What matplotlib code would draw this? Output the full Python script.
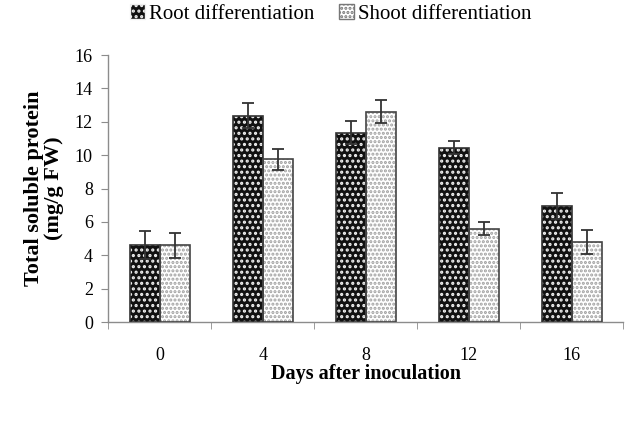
import matplotlib
matplotlib.use("Agg")
import matplotlib.pyplot as plt
import numpy as np
from matplotlib.patches import Patch

categories = ["0", "4", "8", "12", "16"]
root_vals = [4.6, 12.35, 11.35, 10.45, 6.95]
root_err = [0.85, 0.75, 0.7, 0.4, 0.8]
shoot_vals = [4.6, 9.75, 12.6, 5.6, 4.8]
shoot_err = [0.75, 0.65, 0.7, 0.4, 0.7]
series_names = ["Root differentiation", "Shoot differentiation"]
y_ticks = [0, 2, 4, 6, 8, 10, 12, 14, 16]

plt.rcParams['font.family'] = ['Liberation Serif', 'DejaVu Serif']
plt.rcParams['hatch.linewidth'] = 1.5

fig = plt.figure(figsize=(6.36, 4.30), dpi=100)
ax = fig.add_axes([0.170, 0.251, 0.810, 0.621])

x = np.arange(len(categories))
w = 0.29
gray = "#8c8c8c"

# Root bars: black with white dots
ax.bar(x - w/2, root_vals, w, color="#111111", edgecolor="#f0f0f0", hatch="...", linewidth=0, zorder=2)
ax.bar(x - w/2, root_vals, w, facecolor="none", edgecolor="#333333", linewidth=1.2, zorder=3)
# Shoot bars: white with grey dots
ax.bar(x + w/2, shoot_vals, w, color="white", edgecolor="#a0a0a0", hatch="....", linewidth=0, zorder=2)
ax.bar(x + w/2, shoot_vals, w, facecolor="none", edgecolor="#444444", linewidth=1.2, zorder=3)

ax.errorbar(x - w/2, root_vals, yerr=root_err, fmt="none", ecolor="#333333",
            elinewidth=1.3, capsize=4, capthick=1.3, zorder=4)
ax.errorbar(x + w/2, shoot_vals, yerr=shoot_err, fmt="none", ecolor="#333333",
            elinewidth=1.3, capsize=4, capthick=1.3, zorder=4)

ax.set_xlim(-0.5, len(categories) - 0.5)
ax.set_ylim(0, 16)
ax.set_yticks(y_ticks)
ax.set_yticklabels([str(t) for t in y_ticks], fontsize=13)

ax.set_xticks(x)
ax.set_xticklabels(categories, fontsize=13)
ax.tick_params(axis="x", which="major", length=0, pad=18)
ax.set_xticks(np.arange(len(categories) + 1) - 0.5, minor=True)
ax.tick_params(axis="x", which="minor", length=5, color=gray, direction="out")
ax.tick_params(axis="y", length=5, color=gray, direction="out", pad=6)

for s in ["top", "right"]:
    ax.spines[s].set_visible(False)
for s in ["left", "bottom"]:
    ax.spines[s].set_color(gray)
    ax.spines[s].set_linewidth(1.0)

ax.set_ylabel("Total soluble protein\n(mg/g FW)", fontsize=16, fontweight="bold", labelpad=8, linespacing=1.0)
ax.set_xlabel("Days after inoculation", fontsize=14.5, fontweight="bold", labelpad=0)

handles = [Patch(facecolor="#111111", edgecolor="#f0f0f0", hatch="...", label=series_names[0]),
           Patch(facecolor="white", edgecolor="#777777", hatch="....", label=series_names[1])]
fig.legend(handles=handles, loc="center", bbox_to_anchor=(0.52, 0.968), ncol=2, frameon=False,
           fontsize=15, handlelength=0.7, handleheight=0.7, handletextpad=0.2, columnspacing=1.2)

fig.savefig("out.png", dpi=100)
